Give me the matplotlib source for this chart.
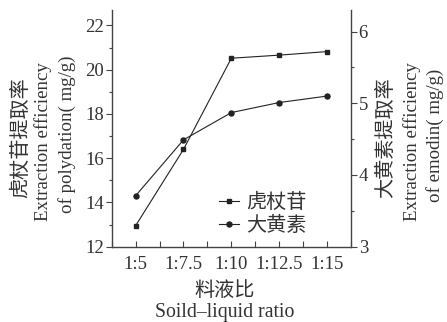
import matplotlib
matplotlib.use('Agg')
import matplotlib.pyplot as plt
from matplotlib.ticker import MultipleLocator

ratios = ['1:5', '1:7.5', '1:10', '1:12.5', '1:15']
polydatin = [12.95, 16.4, 20.52, 20.66, 20.82]
emodin = [3.71, 4.49, 4.87, 5.01, 5.10]

FONTS = ['Liberation Serif', 'Noto Sans CJK SC']
plt.rcParams['font.family'] = FONTS
plt.rcParams['axes.unicode_minus'] = False
ink = '#333333'

fig = plt.figure(figsize=(4.47, 3.22), dpi=100)
ax = fig.add_axes([111.7 / 447, 1 - 246.7 / 322, (351 - 111.7) / 447, (246.7 - 10) / 322])
ax2 = ax.twinx()

x = list(range(len(ratios)))
l1, = ax.plot(x, polydatin, color='#222222', lw=0.8, marker='s', ms=3.2, label='虎杖苷')
l2, = ax2.plot(x, emodin, color='#222222', lw=0.8, marker='o', ms=3.6, label='大黄素')

ax.set_xlim(-0.5, 4.5)
ax.set_ylim(12, 22.7)
ax2.set_ylim(3, 6.3)
ax.set_xticks(x)
ax.set_xticklabels(ratios)
ax.xaxis.set_minor_locator(MultipleLocator(0.5))
ax.yaxis.set_major_locator(MultipleLocator(2))
ax.yaxis.set_minor_locator(MultipleLocator(1))
ax2.yaxis.set_major_locator(MultipleLocator(1))
ax2.yaxis.set_minor_locator(MultipleLocator(0.5))

for a in (ax, ax2):
    for s in a.spines.values():
        s.set_color('#444444')
        s.set_linewidth(1.0)
    a.spines['top'].set_visible(False)
ax.spines['right'].set_visible(False)
ax2.spines['left'].set_visible(False)
ax2.spines['bottom'].set_visible(False)

ax.tick_params(axis='x', which='both', direction='in', length=4, width=0.8,
               colors='#444444', labelcolor=ink, labelsize=13.5, pad=7)
ax.tick_params(axis='y', which='major', direction='out', length=4, width=0.8,
               colors='#444444', labelcolor=ink, labelsize=13.5, pad=1.5)
ax.tick_params(axis='y', which='minor', direction='out', length=2, width=0.8, colors='#444444')
ax2.tick_params(axis='y', which='major', direction='out', length=4, width=0.8,
                colors='#444444', labelcolor=ink, labelsize=13.5, pad=1.5)
ax2.tick_params(axis='y', which='minor', direction='out', length=2, width=0.8, colors='#444444')

W, H = 447, 322


def ftext(px, py, s, size, rot=0):
    fig.text(px / W, 1 - py / H, s, fontsize=size, color=ink, rotation=rot,
             ha='center', va='center', family=FONTS)


# left label
ftext(22, 138, '虎杖苷提取率', 14.5, 90)
ftext(43, 142, 'Extraction efficiency', 13.6, 90)
ftext(67, 134, 'of polydation( mg/g)', 13.6, 90)
# right label
ftext(387, 138, '大黄素提取率', 14.5, 90)
ftext(412, 142, 'Extraction efficiency', 13.6, 90)
ftext(435, 135, 'of emodin( mg/g)', 13.6, 90)
# x label
ftext(225, 291, '料液比', 14.5)
ftext(225, 313, 'Soild–liquid ratio', 14.2)

leg = ax.legend(handles=[l1, l2], loc='upper left', bbox_to_anchor=(219 / W, 1 - 194 / H),
                bbox_transform=fig.transFigure, frameon=False, fontsize=14.5,
                handlelength=1.0, handletextpad=0.35, labelspacing=0.2,
                borderaxespad=0, borderpad=0)
for t in leg.get_texts():
    t.set_color(ink)

fig.savefig('out.png', dpi=100)
